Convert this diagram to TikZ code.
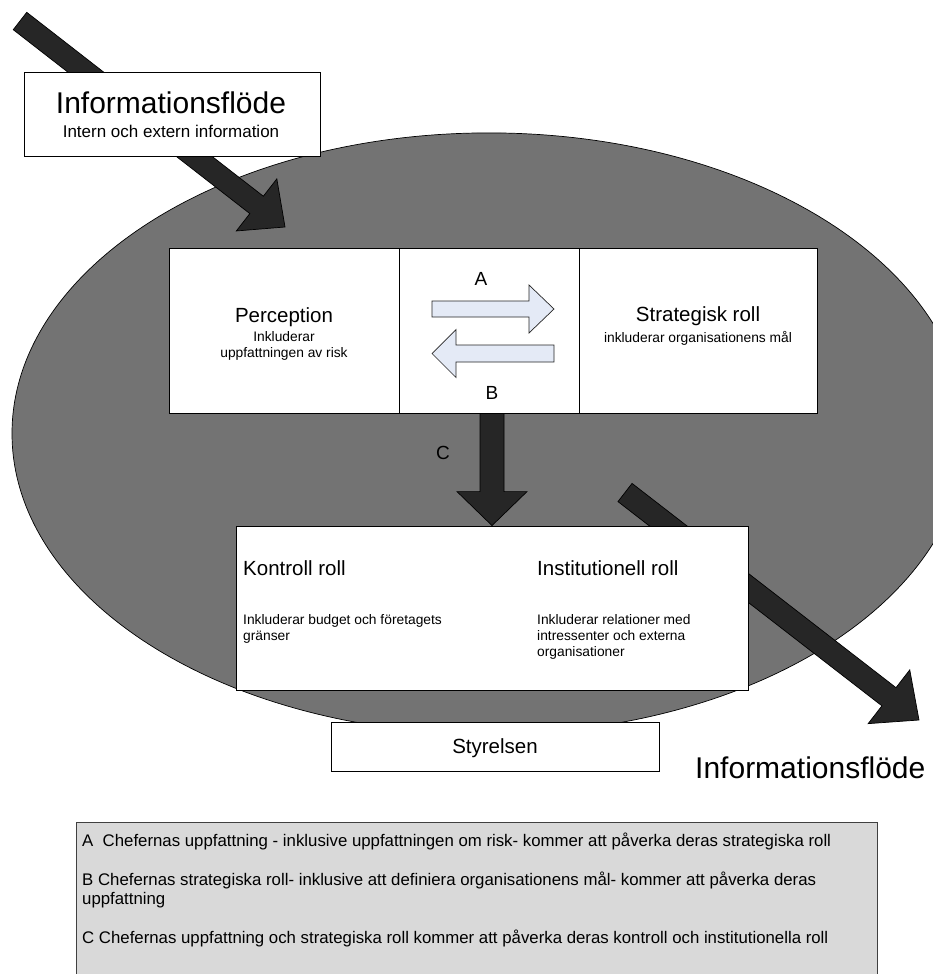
\documentclass[tikz,border=0pt]{standalone}
\usepackage{fontspec}
\setmainfont{Liberation Sans}
\usetikzlibrary{calc}

\definecolor{ovalgray}{HTML}{737373}
\definecolor{arrowdark}{HTML}{262626}
\definecolor{paleblue}{HTML}{E4EAF6}
\definecolor{notegray}{HTML}{D9D9D9}

\newcommand{\txtsize}[1]{\fontsize{#1}{#1}\selectfont}

% block arrow: #1 style, #2 tail, #3 tip, #4 half shaft, #5 half head, #6 head length
\newcommand{\blockarrow}[6]{%
  \coordinate (ba-base) at ($(#3)!#6!(#2)$);
  \draw[#1] ($(#2)!#4!90:(#3)$) -- ($(ba-base)!#4!90:(#3)$) -- ($(ba-base)!#5!90:(#3)$) -- (#3)
    -- ($(ba-base)!#5!-90:(#3)$) -- ($(ba-base)!#4!-90:(#3)$) -- ($(#2)!#4!-90:(#3)$) -- cycle;
}

\tikzset{
  frame/.style={draw=black, line width=0.8pt, fill=white, rectangle, inner sep=0pt},
  darkarrow/.style={draw=black, line width=0.7pt, fill=arrowdark, line join=miter},
  lightarrow/.style={draw=black!85, line width=0.7pt, fill=paleblue, line join=miter},
  txt/.style={inner sep=0pt, text=black},
  bigtitle/.style={txt, font=\txtsize{30}},
  title/.style={txt, font=\txtsize{20.5}},
  small/.style={txt, font=\txtsize{13.8}},
  letter/.style={txt, font=\txtsize{19}, anchor=base},
  note/.style={txt, font=\txtsize{16.8}, anchor=base west},
}

\begin{document}
\begin{tikzpicture}[x=1pt,y=-1pt]
\useasboundingbox (0,0) rectangle (933,974);

% the organisation
\draw[fill=ovalgray, draw=black, line width=0.7pt] (489,433.5) ellipse [x radius=477pt, y radius=300.6pt];

% incoming information flow
\coordinate (inTail) at (20,21);
\coordinate (inTip) at (285,227);
\blockarrow{darkarrow}{inTail}{inTip}{11pt}{33pt}{36pt}
\node[frame, minimum width=296pt, minimum height=84pt] (info) at (172,114) {};
\node[bigtitle, anchor=base] (infoT) at (171,113) {Informationsflöde};
\node[txt, font=\txtsize{17}, anchor=base] (infoS) at (171,137.5) {Intern och extern information};

% outgoing information flow
\coordinate (outTail) at (625,492.5);
\coordinate (outTip) at (919,720);
\blockarrow{darkarrow}{outTail}{outTip}{11.5pt}{34pt}{38pt}
\node[bigtitle, anchor=base west] (outT) at (695,778) {Informationsflöde};

% upper row
\node[frame, minimum width=230pt, minimum height=165pt] (perc) at (284,330.5) {};
\node[frame, minimum width=180pt, minimum height=165pt] (mid) at (489,330.5) {};
\node[frame, minimum width=238pt, minimum height=165pt] (strat) at (698,330.5) {};

\node[title, anchor=base] (percT) at (284,322) {Perception};
\node[small, anchor=base] (percS1) at (284,341) {Inkluderar};
\node[small, anchor=base] (percS2) at (284,357) {uppfattningen av risk};
\node[title, anchor=base] (stratT) at (698,321) {Strategisk roll};
\node[small, anchor=base] (stratS) at (698,342) {inkluderar organisationens mål};

% A and B between perception and strategy
\coordinate (aTail) at (432,309);
\coordinate (aTip) at (554,309);
\blockarrow{lightarrow}{aTail}{aTip}{8pt}{24pt}{25pt}
\coordinate (bTail) at (554,353.5);
\coordinate (bTip) at (432,353.5);
\blockarrow{lightarrow}{bTail}{bTip}{8.5pt}{24pt}{24pt}
\node[letter] (labA) at (481,285) {A};
\node[letter] (labB) at (492,399) {B};

% lower row
\node[frame, minimum width=512pt, minimum height=164pt] (ctrl) at (492,608) {};
\coordinate (cTail) at (ctrl.north |- mid.south);
\blockarrow{darkarrow}{cTail}{ctrl.north}{12pt}{35pt}{34pt}
\node[letter] (labC) at (443,459) {C};

\node[title, anchor=base west] (ctrlT) at (243,575) {Kontroll roll};
\node[small, anchor=base west] (ctrlS1) at (243,624) {Inkluderar budget och företagets};
\node[small, anchor=base west] (ctrlS2) at (243,640) {gränser};
\node[title, anchor=base west] (instT) at (537,575) {Institutionell roll};
\node[small, anchor=base west] (instS1) at (537,624) {Inkluderar relationer med};
\node[small, anchor=base west] (instS2) at (537,640) {intressenter och externa};
\node[small, anchor=base west] (instS3) at (537,656) {organisationer};

% board
\node[frame, minimum width=328pt, minimum height=49pt] (board) at (495,746.5) {};
\node[txt, font=\txtsize{20.5}, anchor=base] (boardT) at (495,753) {Styrelsen};

% explanations
\fill[notegray] (76,822) rectangle (877,974);
\draw[draw=black!75, line width=0.8pt] (76,974) -- (76,822) -- (877,822) -- (877,974);
\node[note] (noteA) at (82,846) {A\ \ Chefernas uppfattning - inklusive uppfattningen om risk- kommer att påverka deras strategiska roll};
\node[note] (noteB1) at (82,885) {B Chefernas strategiska roll- inklusive att definiera organisationens mål- kommer att påverka deras};
\node[note] (noteB2) at (82,904) {uppfattning};
\node[note] (noteC) at (82,943) {C Chefernas uppfattning och strategiska roll kommer att påverka deras kontroll och institutionella roll};
\end{tikzpicture}
\end{document}
